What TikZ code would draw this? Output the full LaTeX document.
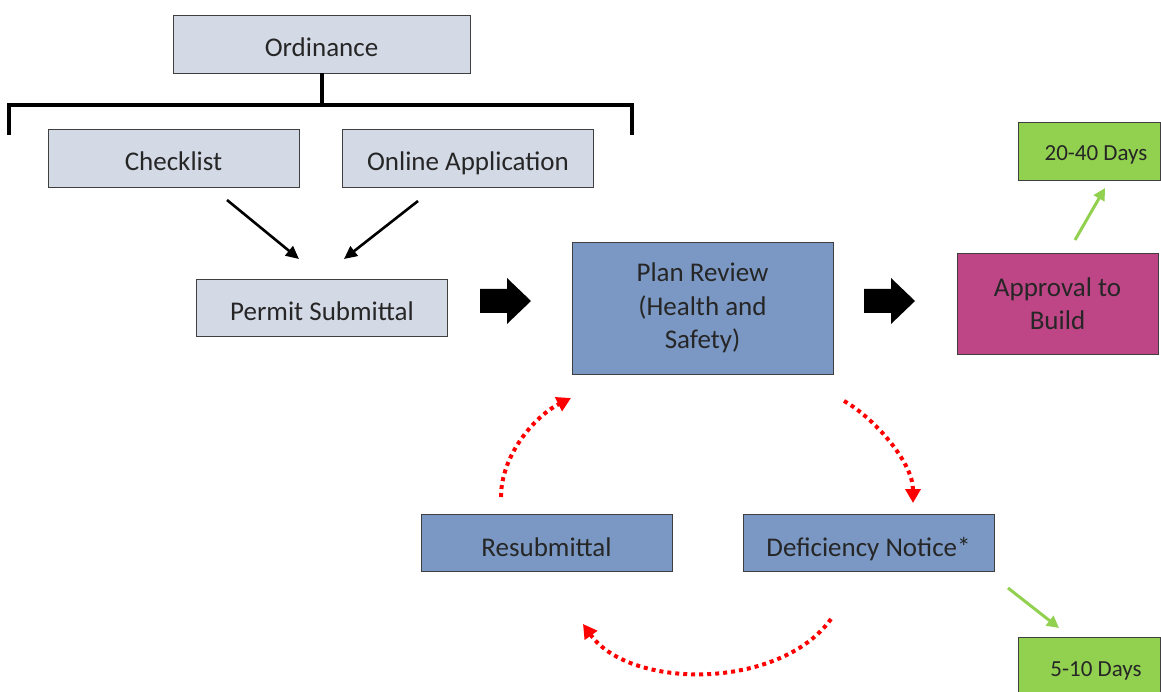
\documentclass[tikz,border=0pt]{standalone}
\usepackage{fontspec}
\setmainfont{Carlito}
\usetikzlibrary{arrows.meta}
\definecolor{boxlight}{HTML}{D3DAE6}
\definecolor{boxblue}{HTML}{7A98C3}
\definecolor{boxpink}{HTML}{BE4586}
\definecolor{boxgreen}{HTML}{92D050}
\definecolor{boxline}{HTML}{3F3F3F}

\begin{document}
\begin{tikzpicture}[x=1pt,y=-1pt,
  stepbox/.style={draw=boxline, line width=0.8pt, inner sep=0pt, align=center,
    text=black!85, font=\fontsize{27}{33.5}\selectfont},
  oneline/.style={text height=30pt, text depth=4pt},
  lightbox/.style={stepbox, oneline, fill=boxlight, minimum width=251, minimum height=58},
  bluebox/.style={stepbox, fill=boxblue, minimum width=251, minimum height=57},
  daybox/.style={stepbox, fill=boxgreen, minimum width=142, minimum height=58,
    text height=24pt, text depth=4pt, font=\fontsize{23}{27}\selectfont},
  flowarrow/.style={line width=2.6pt, -{Triangle[length=13pt,width=12pt]}},
  dayarrow/.style={boxgreen, line width=3pt, -{Triangle[length=12pt,width=12pt]}},
  cyclearrow/.style={red, line width=4pt, dash pattern=on 4pt off 4pt,
    -{Triangle[length=14pt,width=15pt]}}]
\useasboundingbox (0,0) rectangle (1161,692);

% boxes
\node[lightbox, minimum width=297] (ord) at (321.5,44) {Ordinance};
\node[lightbox] (chk) at (173.5,158) {Checklist};
\node[lightbox] (app) at (468,158) {Online Application};
\node[lightbox, minimum height=57] (permit) at (322,307.5) {Permit Submittal};
\node[bluebox, minimum width=261, minimum height=132] (plan) at (702.5,308) {Plan Review\\(Health and\\Safety)};
\node[stepbox, fill=boxpink, minimum width=201, minimum height=101] (build) at (1057.5,303.5) {Approval to\\Build};
\node[daybox] (long) at (1089,151) {\hspace{14pt}20-40 Days};
\node[bluebox, oneline] (resub) at (546.5,543) {Resubmittal};
\node[bluebox, oneline] (notice) at (868.5,543) {Deficiency Notice*};
\node[daybox] (short) at (1089,666) {\hspace{14pt}5-10 Days};

% bracket under the ordinance
\coordinate (brk) at (321.5,105);
\draw[line width=4pt] (ord.south) -- (brk);
\draw[line width=4pt] (9,135) |- (brk) -| (632,135);

% into the permit
\coordinate (c1) at (227,200);
\coordinate (c2) at (299,259);
\coordinate (c3) at (418,201);
\coordinate (c4) at (344,259);
\draw[flowarrow] (c1) -- (c2);
\draw[flowarrow] (c3) -- (c4);

% block arrows
\fill (480,289) -- ++(27,0) -- ++(0,-11) -- ++(24,23) -- ++(-24,23) -- ++(0,-11) -- ++(-27,0) -- cycle;
\fill (864,289) -- ++(27,0) -- ++(0,-11) -- ++(24,23) -- ++(-24,23) -- ++(0,-11) -- ++(-27,0) -- cycle;

% days
\coordinate (g1) at (1075,240);
\coordinate (g2) at (1105,188);
\coordinate (g3) at (1008,588);
\coordinate (g4) at (1059,628);
\draw[dayarrow] (g1) -- (g2);
\draw[dayarrow] (g3) -- (g4);

% review cycle
\coordinate (r1) at (501,497);
\coordinate (r2) at (571,398);
\coordinate (r3) at (844,401);
\coordinate (r4) at (913,503);
\coordinate (r5) at (831,619);
\coordinate (r6) at (583,624);
\draw[cyclearrow] (r1) .. controls (501,455) and (535,416) .. (r2);
\draw[cyclearrow] (r3) .. controls (873,417) and (913,462) .. (r4);
\draw[cyclearrow] (r5) .. controls (780,690) and (630,690) .. (r6);

\end{tikzpicture}
\end{document}
